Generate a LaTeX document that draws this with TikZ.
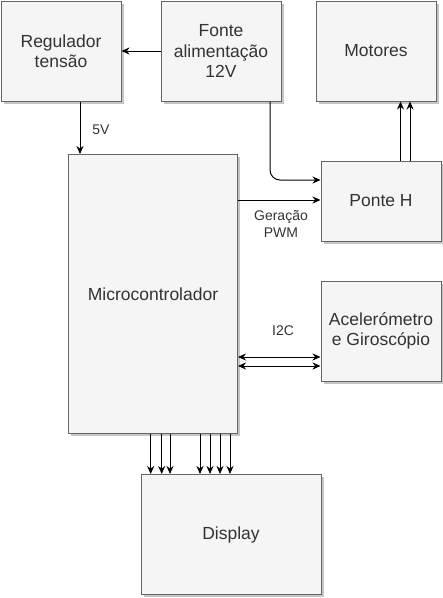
\documentclass[tikz,border=0pt]{standalone}
\usepackage{fontspec}
\setmainfont{Liberation Sans}
\usetikzlibrary{arrows.meta,shadows}
\definecolor{boxfill}{HTML}{F5F5F5}
\definecolor{boxline}{HTML}{666666}
\definecolor{txt}{HTML}{333333}
\tikzset{
 blk/.style={draw=boxline, fill=boxfill, line width=1pt, anchor=north west, inner sep=0pt, align=center,
   font=\fontsize{17.5}{20.5}\selectfont, text=txt,
   drop shadow={shadow xshift=2.5pt, shadow yshift=-2.5pt, fill=black!45, opacity=.5}},
 lbl/.style={font=\fontsize{14}{17.5}\selectfont, text=txt, align=center},
 arr/.style={-{Stealth[length=8pt,width=7pt]}, line width=1pt, black},
 arrb/.style={{Stealth[length=8pt,width=7pt]}-{Stealth[length=8pt,width=7pt]}, line width=1pt, black},
}
\begin{document}
\begin{tikzpicture}[x=1pt,y=-1pt]
\useasboundingbox (0,0) rectangle (443,598);
\node[blk, minimum width=120pt, minimum height=100pt] (reg) at (0.5,0.5) {Regulador\\tensão};
\node[blk, minimum width=120pt, minimum height=100pt] (fonte) at (160.5,0.5) {Fonte\\alimentação\\12V};
\node[blk, minimum width=120pt, minimum height=100pt] (mot) at (315.5,0.5) {Motores};
\node[blk, minimum width=169pt, minimum height=279pt] (micro) at (68,154) {Microcontrolador};
\node[blk, minimum width=120pt, minimum height=80pt] (ponte) at (320.5,160.5) {Ponte H};
\node[blk, minimum width=120pt, minimum height=100pt] (acel) at (320.5,280.5) {Acelerómetro\\e Giroscópio};
\node[blk, minimum width=180pt, minimum height=120pt] (disp) at (140.5,474) {Display};

\draw[arr] (fonte.west) -- (reg.east);
\draw[arr] (80,0 |- reg.south) -- (80,0 |- micro.north);
\node[lbl] (l5v) at (101,130) {5V};
\draw[arr, rounded corners=10pt] (270,0 |- fonte.south) -- (270,180) -- (ponte.west |- 0,180);
\draw[arr] (micro.east |- 0,200) -- (ponte.west |- 0,200);
\node[lbl] (lpwm) at (281,224) {Geração\\PWM};
\draw[arr] (400.5,0 |- ponte.north) -- (400.5,0 |- mot.south);
\draw[arr] (410,0 |- ponte.north) -- (410,0 |- mot.south);
\draw[arrb] (micro.east |- 0,357) -- (acel.west |- 0,357);
\draw[arrb] (micro.east |- 0,366) -- (acel.west |- 0,366);
\node[lbl] (li2c) at (283,331) {I2C};
\foreach \x in {150.7,161.7,170,200,210,220,230}
  \draw[arr] (\x,0 |- micro.south) -- (\x,0 |- disp.north);
\end{tikzpicture}
\end{document}
